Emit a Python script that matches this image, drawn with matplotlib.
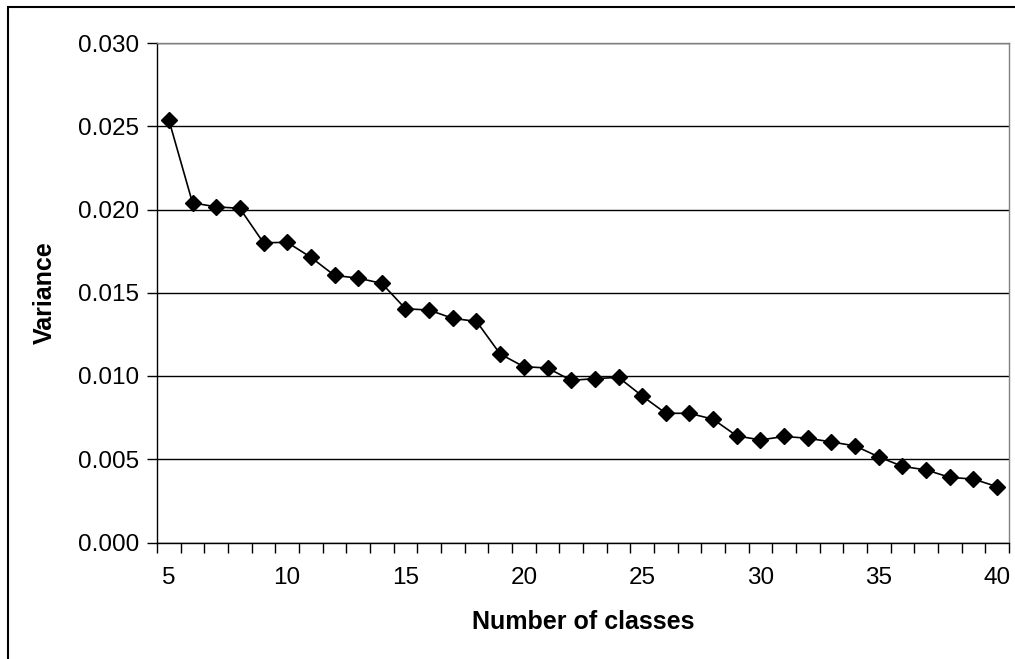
import matplotlib
matplotlib.use("Agg")
import matplotlib.pyplot as plt
import numpy as np

# number of classes and the variance
classes = list(range(5, 41))
variance = [0.02539, 0.02040, 0.02016, 0.02007, 0.01800, 0.01803, 0.01713, 0.01604,
            0.01588, 0.01556, 0.01404, 0.01396, 0.01346, 0.01328, 0.01132, 0.01056,
            0.01048, 0.00974, 0.00984, 0.00992, 0.00880, 0.00776, 0.00776, 0.00740,
            0.00640, 0.00616, 0.00637, 0.00626, 0.00604, 0.00580, 0.00514, 0.00457,
            0.00436, 0.00391, 0.00381, 0.00335]
x_labels = [5, 10, 15, 20, 25, 30, 35, 40]
y_ticks = [0.000, 0.005, 0.010, 0.015, 0.020, 0.025, 0.030]

plt.rcParams['font.family'] = ['Liberation Sans', 'DejaVu Sans']

fig = plt.figure(figsize=(10.15, 6.59), dpi=100)
ax = fig.add_axes([157 / 1015, 1 - 542.5 / 659, 852 / 1015, 499.5 / 659])

# 外框（只看得到上边和左边）
frame = plt.Rectangle((7.5 / 1015, -0.2), 1.2, 0.2 + (659 - 7.5) / 659,
                      transform=fig.transFigure, fill=False, edgecolor='black',
                      linewidth=1.5, clip_on=False)
fig.add_artist(frame)

ax.plot(classes, variance, color='black', linewidth=1.2, marker='D',
        markersize=8, markerfacecolor='black', markeredgecolor='black',
        markeredgewidth=1, zorder=3)

ax.set_xlim(4.5, 40.5)
ax.set_ylim(0, 0.030)

# 类别轴：刻度线在类别之间，标签在类别中间
ax.set_xticks(np.arange(4.5, 41, 1.0))
ax.set_xticklabels([])
ax.set_xticks(x_labels, minor=True)
ax.set_xticklabels([str(v) for v in x_labels], minor=True)
ax.tick_params(axis='x', which='major', direction='out', length=7, width=1, color='black')
ax.tick_params(axis='x', which='minor', length=0, pad=18, labelsize=17.5)

ax.set_yticks(y_ticks)
ax.set_yticklabels([f"{v:.3f}" for v in y_ticks])
ax.tick_params(axis='y', direction='out', length=7, width=1, pad=6, labelsize=17.5)

ax.grid(axis='y', color='black', linewidth=1.0, zorder=1)
ax.set_axisbelow(True)

ax.spines['left'].set_color('black')
ax.spines['bottom'].set_color('black')
ax.spines['top'].set_color('#808080')
ax.spines['right'].set_color('#808080')
for s in ax.spines.values():
    s.set_linewidth(1.0)

ax.set_xlabel("Number of classes", fontsize=18, fontweight='bold', va='center')
ax.xaxis.set_label_coords(0.5, -0.159)
ax.set_ylabel("Variance", fontsize=18, fontweight='bold', va='center')
ax.yaxis.set_label_coords(-0.1315, 0.5)

fig.savefig("out.png", dpi=100)
